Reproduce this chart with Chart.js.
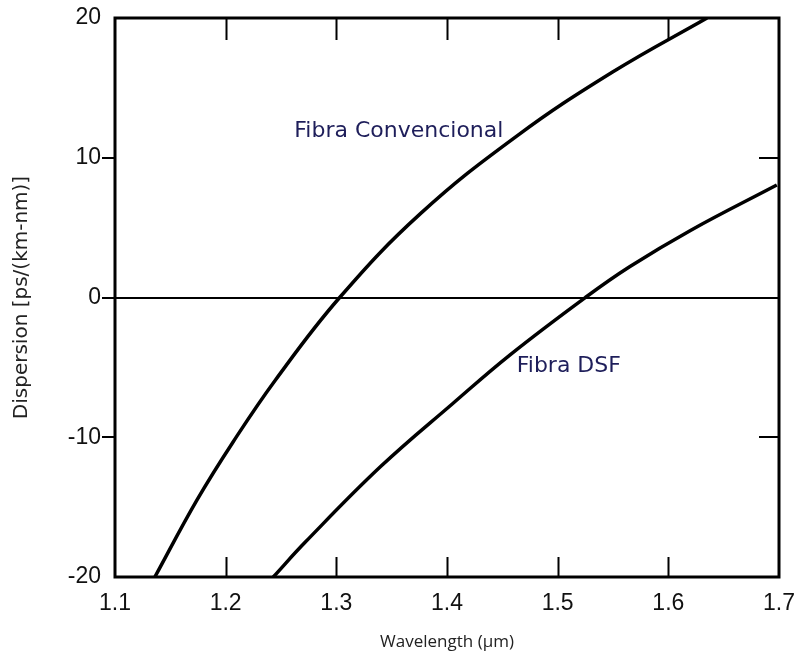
<!DOCTYPE html>
<html>
<head>
<meta charset="utf-8">
<script src="https://cdn.jsdelivr.net/npm/chart.js@4.4.0/dist/chart.umd.min.js"></script>
<style>
    html, body { margin: 0; padding: 0; background: #fff; }
    #wrap { width: 799px; height: 660px; }
</style>
</head>
<body>
<div id="wrap"><canvas id="chart" width="799" height="660"></canvas></div>
<script>
// values
const convWavelength = [1.136, 1.174, 1.207, 1.245, 1.303, 1.376, 1.463, 1.550, 1.635];
const convDispersion = [-20, -14.5, -10.3, -5.9, 0, 6.0, 11.55, 16.15, 20];

const dsfWavelength = [1.243, 1.272, 1.340, 1.405, 1.457, 1.525, 1.565, 1.620, 1.698];
const dsfDispersion = [-20, -17.5, -12.1, -7.6, -4.1, 0, 2.2, 4.8, 8.05];

const xTicks = [1.1, 1.2, 1.3, 1.4, 1.5, 1.6, 1.7];
const yTicks = [-20, -10, 0, 10, 20];

const labels = [
    { text: 'Fibra Convencional', x: 1.262, y: 11.9 },
    { text: 'Fibra DSF', x: 1.463, y: -4.9 }
];

function toPoints(xs, ys) {
    let pts = [];
    for (let i = 0; i < xs.length; i++) {
        pts.push({ x: xs[i], y: ys[i] });
    }
    return pts;
}

// box, ticks and the curve names
const framePlugin = {
    id: 'frame',
    afterDraw(chart) {
        const ctx = chart.ctx;
        const a = chart.chartArea;
        const xs = chart.scales.x;
        const ys = chart.scales.y;
        ctx.save();
        ctx.strokeStyle = '#000';
        ctx.lineWidth = 2;
        ctx.beginPath();
        xTicks.slice(1, -1).forEach(function (v) {
            const px = Math.round(xs.getPixelForValue(v)) + 0.5;
            ctx.moveTo(px, a.bottom);
            ctx.lineTo(px, a.bottom - 20);
            ctx.moveTo(px, a.top);
            ctx.lineTo(px, a.top + 22);
        });
        [10, 0, -10].forEach(function (v) {
            const py = Math.round(ys.getPixelForValue(v));
            ctx.moveTo(a.left - 13, py);
            ctx.lineTo(a.left, py);
        });
        [10, -10].forEach(function (v) {
            const py = Math.round(ys.getPixelForValue(v));
            ctx.moveTo(a.right, py);
            ctx.lineTo(a.right - 20, py);
        });
        ctx.stroke();

        ctx.lineWidth = 3;
        ctx.strokeRect(a.left, a.top, a.right - a.left, a.bottom - a.top);

        ctx.fillStyle = '#1e1e5a';
        ctx.font = '22px "DejaVu Sans"';
        ctx.textBaseline = 'middle';
        ctx.textAlign = 'left';
        labels.forEach(function (l) {
            ctx.fillText(l.text, xs.getPixelForValue(l.x), ys.getPixelForValue(l.y));
        });
        ctx.restore();
    }
};

const ctx = document.getElementById('chart').getContext('2d');
const chart = new Chart(ctx, {
    type: 'scatter',
    data: {
        datasets: [{
            label: 'Fibra Convencional',
            data: toPoints(convWavelength, convDispersion),
            showLine: true,
            borderColor: '#000',
            borderWidth: 3.5,
            pointRadius: 0,
            tension: 0.4
        }, {
            label: 'Fibra DSF',
            data: toPoints(dsfWavelength, dsfDispersion),
            showLine: true,
            borderColor: '#000',
            borderWidth: 3.5,
            pointRadius: 0,
            tension: 0.4
        }]
    },
    options: {
        responsive: false,
        animation: false,
        layout: { padding: { left: 0, right: 20, top: 18, bottom: 0 } },
        plugins: {
            legend: { display: false },
            tooltip: { enabled: false }
        },
        scales: {
            x: {
                type: 'linear',
                min: 1.1,
                max: 1.7,
                afterFit: function (scale) {
                    scale.height = 83;
                    scale.paddingLeft = 0;
                    scale.paddingRight = 0;
                },
                afterBuildTicks: function (scale) {
                    scale.ticks = xTicks.map(v => ({ value: v }));
                },
                grid: { display: false, drawTicks: false },
                border: { display: false },
                ticks: {
                    padding: 13,
                    color: '#111',
                    font: { family: '"Liberation Sans"', size: 23 },
                    callback: v => v.toFixed(1)
                },
                title: {
                    display: true,
                    text: 'Wavelength (µm)',
                    color: '#222',
                    font: { family: '"Open Sans"', size: 17 },
                    padding: { top: 0, bottom: 8 }
                }
            },
            y: {
                min: -20,
                max: 20,
                afterFit: function (scale) {
                    scale.width = 115;
                    scale.paddingTop = 0;
                    scale.paddingBottom = 0;
                },
                afterBuildTicks: function (scale) {
                    scale.ticks = yTicks.map(v => ({ value: v }));
                },
                grid: {
                    drawTicks: false,
                    lineWidth: 2,
                    color: c => c.tick && c.tick.value === 0 ? '#000' : 'rgba(0,0,0,0)'
                },
                border: { display: false },
                ticks: {
                    padding: 14,
                    color: '#111',
                    font: { family: '"Liberation Sans"', size: 23 }
                },
                title: {
                    display: true,
                    text: 'Dispersion [ps/(km-nm)]',
                    color: '#222',
                    font: { family: '"DejaVu Sans"', size: 20 },
                    padding: { top: 10, bottom: 4 }
                }
            }
        }
    },
    plugins: [framePlugin]
});
</script>
</body>
</html>
